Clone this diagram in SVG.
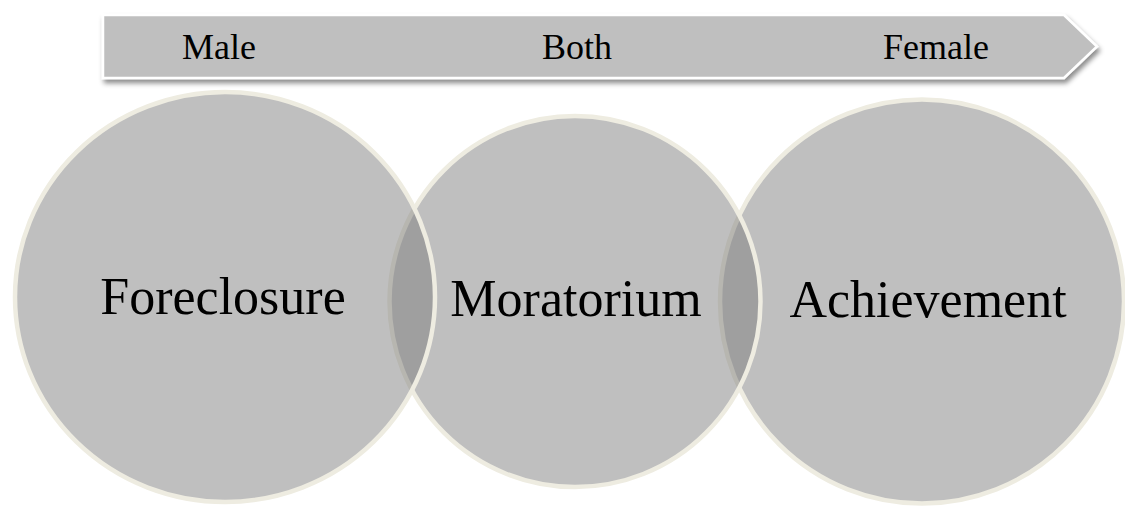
<svg xmlns="http://www.w3.org/2000/svg" width="1125" height="506" viewBox="0 0 1125 506">
<style>
.lbl{font-family:"Liberation Serif","Times New Roman",serif;fill:#000;text-anchor:middle}
.top{font-size:36px}
.big{font-size:52px}
.venn{fill:#7F7F7F;fill-opacity:0.5;stroke:#EEECE1;stroke-width:4.5}
.arrow{fill:#BFBFBF;stroke:#FFFFFF;stroke-width:2.5;stroke-linejoin:miter}
</style>
<defs>
<filter id="sh" x="-5%" y="-30%" width="110%" height="170%">
<feDropShadow dx="2" dy="4" stdDeviation="2.5" flood-color="#000" flood-opacity="0.45"/>
</filter>
</defs>
<rect width="1125" height="506" fill="#FFFFFF"/>
<g id="arrow-bar">
<polygon class="arrow" filter="url(#sh)" points="103,15 1064,15 1097,46.5 1064,78 103,78"/>
<text class="lbl top" x="219" y="59">Male</text>
<text class="lbl top" x="577" y="59">Both</text>
<text class="lbl top" x="936" y="59">Female</text>
</g>
<g id="achievement">
<circle class="venn" cx="922" cy="301.5" r="202"/>
</g>
<g id="moratorium">
<circle class="venn" cx="575" cy="301.5" r="185.5"/>
</g>
<g id="foreclosure">
<ellipse class="venn" cx="225" cy="297" rx="210" ry="205"/>
</g>
<g id="labels">
<text class="lbl big" x="223" y="314">Foreclosure</text>
<text class="lbl big" x="576" y="316">Moratorium</text>
<text class="lbl big" x="928" y="317">Achievement</text>
</g>
<g id="connectors"></g>
</svg>
